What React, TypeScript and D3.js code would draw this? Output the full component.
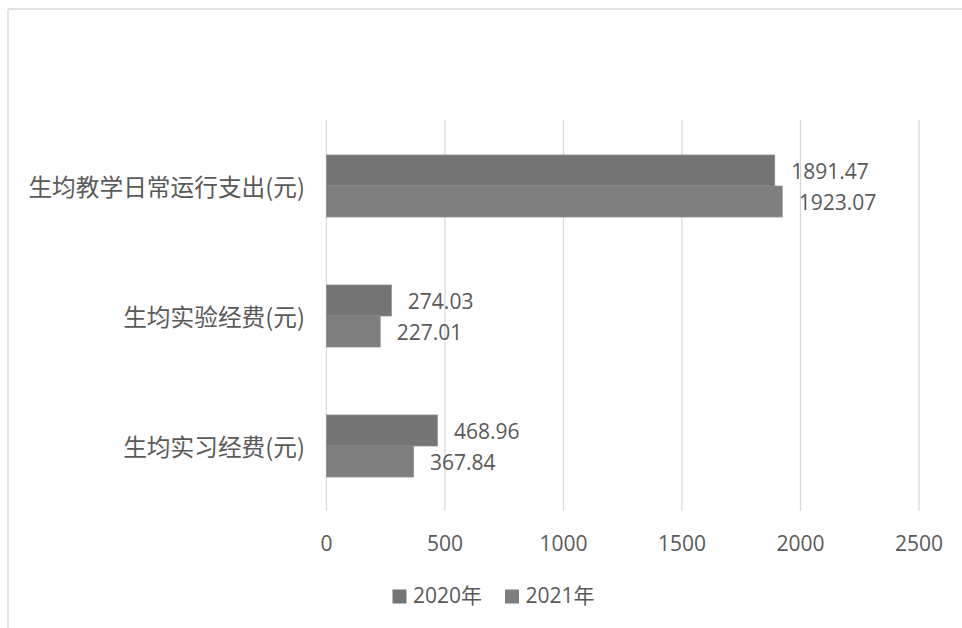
import React from "react";
import * as d3 from "d3";

const categories = ["生均教学日常运行支出(元)", "生均实验经费(元)", "生均实习经费(元)"];
const seriesNames = ["2020年", "2021年"];
const values2020 = [1891.47, 274.03, 468.96];
const values2021 = [1923.07, 227.01, 367.84];
const xTicks = [0, 500, 1000, 1500, 2000, 2500];

const W = 962;
const H = 628;
const colors = ["#747474", "#7e7e7e"];
const textColor = "#595959";
const gridColor = "#d9d9d9";
const numFont = "'Open Sans', 'Noto Sans CJK SC', sans-serif";
const cjkFont = "'Noto Sans CJK SC', sans-serif";

export default function App() {
  const x = d3.scaleLinear().domain([0, 2500]).range([326.4, 919]);
  const p = 0.523;
  const y = d3
    .scaleBand<string>()
    .domain(categories)
    .range([121, 511])
    .paddingInner(p)
    .paddingOuter(p / 2);
  const sub = d3.scaleBand<string>().domain(seriesNames).range([0, y.bandwidth()]);
  const series = [values2020, values2021];

  return (
    <svg
      width={W}
      height={H}
      style={{ position: "fixed", left: 0, top: 0, background: "#fff" }}
    >
      <rect x={0} y={0} width={W} height={H} fill="#fff" />
      {/* frame */}
      <line x1={8} y1={9} x2={W} y2={9} stroke={gridColor} strokeWidth={1.4} />
      <line x1={8} y1={9} x2={8} y2={H} stroke={gridColor} strokeWidth={1.4} />
      {/* gridlines */}
      {xTicks.map((t) => (
        <line
          key={"g" + t}
          x1={x(t)}
          x2={x(t)}
          y1={120}
          y2={511}
          stroke={gridColor}
          strokeWidth={1.3}
        />
      ))}
      {/* bars */}
      {categories.map((c, ci) =>
        series.map((vals, si) => {
          const y0 = (y(c) as number) + (sub(seriesNames[si]) as number);
          const h = sub.bandwidth();
          return (
            <g key={c + si}>
              <rect
                x={x(0)}
                y={y0}
                width={x(vals[ci]) - x(0)}
                height={h}
                fill={colors[si]}
                stroke="#8e8e8e"
                strokeWidth={0.75}
              />
              <text
                x={x(vals[ci]) + 16.5}
                y={y0 + h / 2 + 8.3}
                fill={textColor}
                fontFamily={numFont}
                fontSize={21}
              >
                {vals[ci].toFixed(2)}
              </text>
            </g>
          );
        })
      )}
      {/* category labels */}
      {categories.map((c) => (
        <text
          key={"c" + c}
          x={305}
          y={(y(c) as number) + y.bandwidth() / 2}
          textAnchor="end"
          dominantBaseline="central"
          fill={textColor}
          fontFamily={cjkFont}
          fontSize={23.7}
        >
          {c}
        </text>
      ))}
      {/* x tick labels */}
      {xTicks.map((t) => (
        <text
          key={"t" + t}
          x={x(t)}
          y={551}
          textAnchor="middle"
          fill={textColor}
          fontFamily={numFont}
          fontSize={21}
        >
          {t}
        </text>
      ))}
      {/* legend */}
      {seriesNames.map((s, i) => {
        const lx = [392.5, 505][i];
        return (
          <g key={"l" + s}>
            <rect x={lx} y={589.5} width={14} height={14} fill={colors[i]} />
            <text
              x={lx + 20.5}
              y={603.3}
              fill={textColor}
              fontFamily={numFont}
              fontSize={21}
            >
              {s}
            </text>
          </g>
        );
      })}
    </svg>
  );
}
